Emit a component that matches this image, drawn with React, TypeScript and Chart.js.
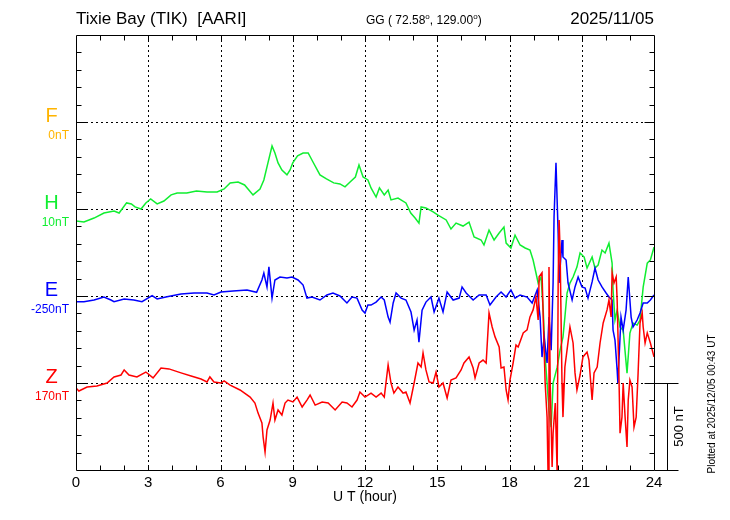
import React, { useEffect, useRef } from "react";
import { Chart, registerables } from "chart.js";

Chart.register(...registerables);

const FONT = "'Liberation Sans', Arial, Helvetica, sans-serif";

// ---- Data (UT hours, variation in nT relative to each trace's baseline) ----
const hTimes = [0,0.33,0.75,1.16,1.58,1.79,2.1,2.3,2.45,2.7,2.9,3.1,3.37,3.65,3.95,4.2,4.6,5.0,5.44,5.86,6.15,6.4,6.73,7.0,7.35,7.64,7.8,7.97,8.14,8.26,8.39,8.55,8.76,8.89,9.0,9.2,9.43,9.64,9.84,10.13,10.4,10.7,10.96,11.17,11.38,11.6,11.75,11.92,12.12,12.25,12.46,12.6,12.8,12.96,13.08,13.37,13.7,13.9,14.08,14.24,14.33,14.53,14.83,15.03,15.37,15.57,15.78,16.07,16.32,16.53,16.82,16.94,17.15,17.36,17.57,17.77,17.86,18.06,18.23,18.44,18.65,18.85,18.98,19.1,19.19,19.31,19.4,19.48,19.56,19.64,19.73,19.81,19.98,20.1,20.22,20.3,20.39,20.51,20.64,20.8,20.93,21.1,21.22,21.43,21.55,21.68,21.84,21.97,22.13,22.26,22.3,22.38,22.47,22.59,22.72,22.88,23.0,23.13,23.3,23.42,23.55,23.72,23.85,24];
const hValues = [-69,-75,-52,-23,-12,-23,35,29,12,0,35,58,29,46,81,92,92,104,98,98,115,150,155,138,81,115,167,265,362,322,265,224,196,224,265,305,322,322,270,196,173,150,144,127,155,184,253,184,167,121,69,121,81,109,52,63,35,-23,-52,-81,12,6,-17,-35,-63,-115,-81,-98,-75,-161,-178,-207,-121,-178,-138,-104,-196,-224,-150,-207,-224,-236,-293,-368,-426,-391,-581,-851,-1000,-1156,-1254,-1000,-909,-811,-736,-621,-483,-426,-391,-334,-253,-276,-339,-276,-339,-322,-236,-253,-196,-311,-466,-638,-581,-679,-696,-943,-713,-656,-667,-638,-449,-311,-293,-219];

const eTimes = [0,0.33,0.75,1.16,1.45,1.58,2.0,2.4,2.74,3.16,3.37,3.78,4.36,4.9,5.44,5.73,6.02,6.52,7.1,7.5,7.72,7.8,7.93,8.01,8.14,8.26,8.47,8.76,8.97,9.22,9.43,9.59,9.8,10.13,10.42,10.67,10.96,11.25,11.46,11.67,11.88,12.0,12.12,12.25,12.46,12.67,12.8,12.96,13.04,13.17,13.29,13.5,13.7,13.91,14.04,14.16,14.24,14.37,14.53,14.74,14.87,15.07,15.24,15.41,15.66,15.91,16.03,16.2,16.49,16.74,17.03,17.19,17.44,17.65,17.86,18.06,18.23,18.44,18.73,18.94,19.15,19.27,19.35,19.44,19.56,19.64,19.73,19.81,19.85,19.93,20.02,20.06,20.18,20.22,20.35,20.43,20.6,20.72,20.85,20.93,21.01,21.14,21.26,21.43,21.55,21.68,21.84,22.01,22.13,22.26,22.3,22.38,22.47,22.5,22.63,22.72,22.84,22.93,23.05,23.13,23.3,23.42,23.55,23.72,23.85,24];
const eValues = [-33,-33,-23,-6,-23,-33,-17,-23,-33,2,-17,-4,12,17,17,6,23,29,35,21,92,132,52,167,-12,92,109,104,109,92,63,-12,-6,-23,6,17,0,-40,-6,-12,-81,-98,-52,-52,-35,-6,-23,-121,-150,-40,17,-12,-23,-92,-196,-138,-265,-81,-35,-6,-92,-12,-92,23,-23,-12,52,17,-23,6,6,-52,-6,23,-6,35,-12,6,-6,-40,35,-121,-351,-236,-385,-121,-311,75,454,765,362,75,322,224,207,75,-23,52,109,81,52,46,-12,81,161,92,52,17,-6,-23,-196,-253,-426,-500,-121,-196,-81,109,-121,-178,-138,-98,-40,-40,-23,6];

const zTimes = [0,0.12,0.46,0.87,1.29,1.58,1.87,2.0,2.2,2.53,2.9,3.2,3.53,3.86,4.36,4.78,5.19,5.44,5.56,5.73,6.02,6.15,6.4,6.81,7.23,7.43,7.56,7.72,7.77,7.85,7.93,8.06,8.18,8.26,8.39,8.55,8.68,8.8,9.01,9.18,9.39,9.59,9.72,9.93,10.22,10.47,10.76,11.05,11.25,11.46,11.67,11.79,12.0,12.25,12.46,12.67,12.8,12.96,13.08,13.2,13.37,13.58,13.7,13.87,14.04,14.2,14.33,14.41,14.53,14.66,14.83,14.95,15.07,15.24,15.41,15.57,15.78,15.99,16.11,16.32,16.49,16.57,16.74,16.9,17.03,17.15,17.28,17.4,17.57,17.65,17.77,17.86,17.94,18.02,18.15,18.27,18.36,18.57,18.73,18.85,18.98,19.1,19.19,19.23,19.35,19.4,19.48,19.56,19.6,19.64,19.69,19.77,19.81,19.9,19.98,20.02,20.06,20.1,20.18,20.22,20.3,20.39,20.51,20.64,20.72,20.8,20.93,21.05,21.22,21.3,21.43,21.51,21.64,21.76,21.89,22.05,22.13,22.22,22.26,22.34,22.43,22.47,22.55,22.59,22.67,22.72,22.8,22.88,22.93,23.0,23.09,23.17,23.26,23.34,23.42,23.51,23.55,23.63,23.72,23.85,24];
const zValues = [-29,-46,-23,-17,0,35,46,75,46,35,63,29,86,81,58,40,23,6,35,6,0,12,-12,-40,-81,-115,-173,-230,-311,-397,-270,-213,-115,-213,-155,-184,-115,-98,-109,-81,-138,-98,-69,-127,-109,-115,-155,-109,-115,-138,-98,-52,-81,-58,-81,-58,-81,104,0,-58,-23,-58,-52,-115,0,115,92,173,75,6,0,63,-23,0,-86,17,29,75,115,150,86,29,115,132,115,403,322,265,207,86,92,-40,-98,17,115,218,207,288,305,380,420,495,362,610,633,380,0,-196,-520,667,0,-483,-288,-115,-520,575,937,765,0,-196,92,190,322,230,58,-40,46,150,178,132,-98,58,92,230,345,420,477,380,633,575,610,477,0,-288,-196,0,-196,-368,-98,17,-23,-253,-196,58,345,403,322,230,288,230,150];

// ---- Axis / labels ----
const hourTicks = [0, 3, 6, 9, 12, 15, 18, 21, 24];
const componentNames = ["F", "H", "E", "Z"];
const componentOffsets = ["0nT", "10nT", "-250nT", "170nT"];
const componentColors = ["#ffb400", "#10ee30", "#0000ff", "#ff0000"];
const baseLevels = [2000, 1500, 1000, 500]; // nT position of each trace's baseline on the 0..2500 nT axis
const yMax = 2500;
const scaleBarNT = 500;

const titleLeft = "Tixie Bay (TIK)  [AARI]";
const titleDate = "2025/11/05";
const xAxisTitle = "U T (hour)";
const plottedText = "Plotted at 2025/12/05 00:43 UT";

function toPoints(times: number[], values: number[], base: number) {
  return times.map((t, i) => ({ x: t, y: base + values[i] }));
}

const decorPlugin = {
  id: "decor",
  beforeDatasetsDraw(chart: any) {
    const { ctx, chartArea: a, scales } = chart;
    const x = scales.x, y = scales.y;
    ctx.save();
    ctx.strokeStyle = "#000";
    ctx.lineWidth = 1;
    ctx.setLineDash([2, 3]);
    ctx.beginPath();
    for (const h of hourTicks) {
      if (h === 0 || h === 24) continue;
      const px = Math.round(x.getPixelForValue(h)) + 0.5;
      ctx.moveTo(px, a.top);
      ctx.lineTo(px, a.bottom);
    }
    for (const v of baseLevels) {
      const py = Math.round(y.getPixelForValue(v)) + 0.5;
      ctx.moveTo(a.left, py);
      ctx.lineTo(a.right, py);
    }
    ctx.stroke();
    ctx.restore();
  },
  afterDatasetsDraw(chart: any) {
    const { ctx, chartArea: a, scales } = chart;
    const x = scales.x, y = scales.y;
    const L = Math.round(a.left) + 0.5, R = Math.round(a.right) + 0.5;
    const T = Math.round(a.top) + 0.5, B = Math.round(a.bottom) + 0.5;
    ctx.save();
    ctx.strokeStyle = "#000";
    ctx.lineWidth = 1;
    ctx.setLineDash([]);
    ctx.beginPath();
    ctx.rect(L, T, R - L, B - T);
    for (let h = 1; h < 24; h++) {
      const px = Math.round(x.getPixelForValue(h)) + 0.5;
      ctx.moveTo(px, B); ctx.lineTo(px, B - 5);
      ctx.moveTo(px, T); ctx.lineTo(px, T + 5);
    }
    for (let v = 100; v < yMax; v += 100) {
      const py = Math.round(y.getPixelForValue(v)) + 0.5;
      const len = v % 500 === 0 ? 10 : 5;
      ctx.moveTo(L, py); ctx.lineTo(L + len, py);
      ctx.moveTo(R, py); ctx.lineTo(R - len, py);
    }
    const barTop = Math.round(y.getPixelForValue(scaleBarNT)) + 0.5;
    const barBottom = Math.round(y.getPixelForValue(0)) + 0.5;
    ctx.moveTo(R, barTop); ctx.lineTo(R + 24, barTop);
    ctx.moveTo(R, barBottom); ctx.lineTo(R + 24, barBottom);
    ctx.moveTo(R + 13, barTop); ctx.lineTo(R + 13, barBottom);
    ctx.stroke();
    ctx.restore();
  },
  afterDraw(chart: any) {
    const { ctx, chartArea: a, scales } = chart;
    const y = scales.y;
    ctx.save();
    ctx.fillStyle = "#000";
    ctx.textBaseline = "alphabetic";
    ctx.font = `17px ${FONT}`;
    ctx.textAlign = "left";
    ctx.fillText(titleLeft, a.left, 24);
    ctx.textAlign = "right";
    ctx.fillText(titleDate, a.right, 24);

    const parts: [string, boolean][] = [["GG ( 72.58", false], ["o", true], [", 129.00", false], ["o", true], [")", false]];
    let cx = 366;
    ctx.textAlign = "left";
    for (const [txt, sup] of parts) {
      ctx.font = sup ? `8px ${FONT}` : `12px ${FONT}`;
      ctx.fillText(txt, cx, sup ? 19 : 24);
      cx += ctx.measureText(txt).width;
    }

    componentNames.forEach((name, i) => {
      const py = y.getPixelForValue(baseLevels[i]);
      ctx.fillStyle = componentColors[i];
      ctx.textBaseline = "middle";
      ctx.textAlign = "center";
      ctx.font = `20px ${FONT}`;
      ctx.fillText(name, 51.5, py - 6);
      ctx.textAlign = "right";
      ctx.font = `12px ${FONT}`;
      ctx.fillText(componentOffsets[i], 69, py + 14);
    });

    ctx.fillStyle = "#000";
    ctx.textAlign = "center";
    ctx.textBaseline = "middle";
    ctx.font = `14px ${FONT}`;
    ctx.fillText(xAxisTitle, (a.left + a.right) / 2, 497);

    const barMid = (y.getPixelForValue(scaleBarNT) + y.getPixelForValue(0)) / 2;
    ctx.save();
    ctx.translate(679, barMid);
    ctx.rotate(-Math.PI / 2);
    ctx.font = `13px ${FONT}`;
    ctx.fillText(`${scaleBarNT} nT`, 0, 0);
    ctx.restore();

    ctx.save();
    ctx.translate(712, 404);
    ctx.rotate(-Math.PI / 2);
    ctx.font = `10px ${FONT}`;
    ctx.fillText(plottedText, 0, 0);
    ctx.restore();
    ctx.restore();
  },
};

export default function App() {
  const canvasRef = useRef<HTMLCanvasElement | null>(null);

  useEffect(() => {
    if (!canvasRef.current) return;
    const lineOpts = { borderWidth: 1.5, pointRadius: 0, fill: false, tension: 0 };
    const chart = new Chart(canvasRef.current, {
      type: "line",
      data: {
        datasets: [
          { label: "Z", data: toPoints(zTimes, zValues, baseLevels[3]), borderColor: componentColors[3], ...lineOpts },
          { label: "E", data: toPoints(eTimes, eValues, baseLevels[2]), borderColor: componentColors[2], ...lineOpts },
          { label: "H", data: toPoints(hTimes, hValues, baseLevels[1]), borderColor: componentColors[1], ...lineOpts },
        ],
      },
      options: {
        responsive: false,
        animation: false,
        events: [],
        layout: { padding: { left: 76, right: 76, top: 35, bottom: 0 } },
        plugins: { legend: { display: false }, tooltip: { enabled: false }, title: { display: false } },
        scales: {
          x: {
            type: "linear",
            min: 0,
            max: 24,
            grid: { display: false, drawTicks: false },
            border: { display: false },
            ticks: {
              stepSize: 3,
              autoSkip: false,
              maxRotation: 0,
              color: "#000",
              padding: 4,
              font: { family: FONT, size: 15 },
            },
            afterFit: (s: any) => { s.height = 50; },
          },
          y: { type: "linear", min: 0, max: yMax, display: false },
        },
      },
      plugins: [decorPlugin],
    } as any);
    return () => chart.destroy();
  }, []);

  return (
    <div style={{ position: "fixed", left: 0, top: 0, width: 730, height: 520, background: "#fff" }}>
      <canvas ref={canvasRef} width={730} height={520} style={{ display: "block", width: 730, height: 520 }} />
    </div>
  );
}
